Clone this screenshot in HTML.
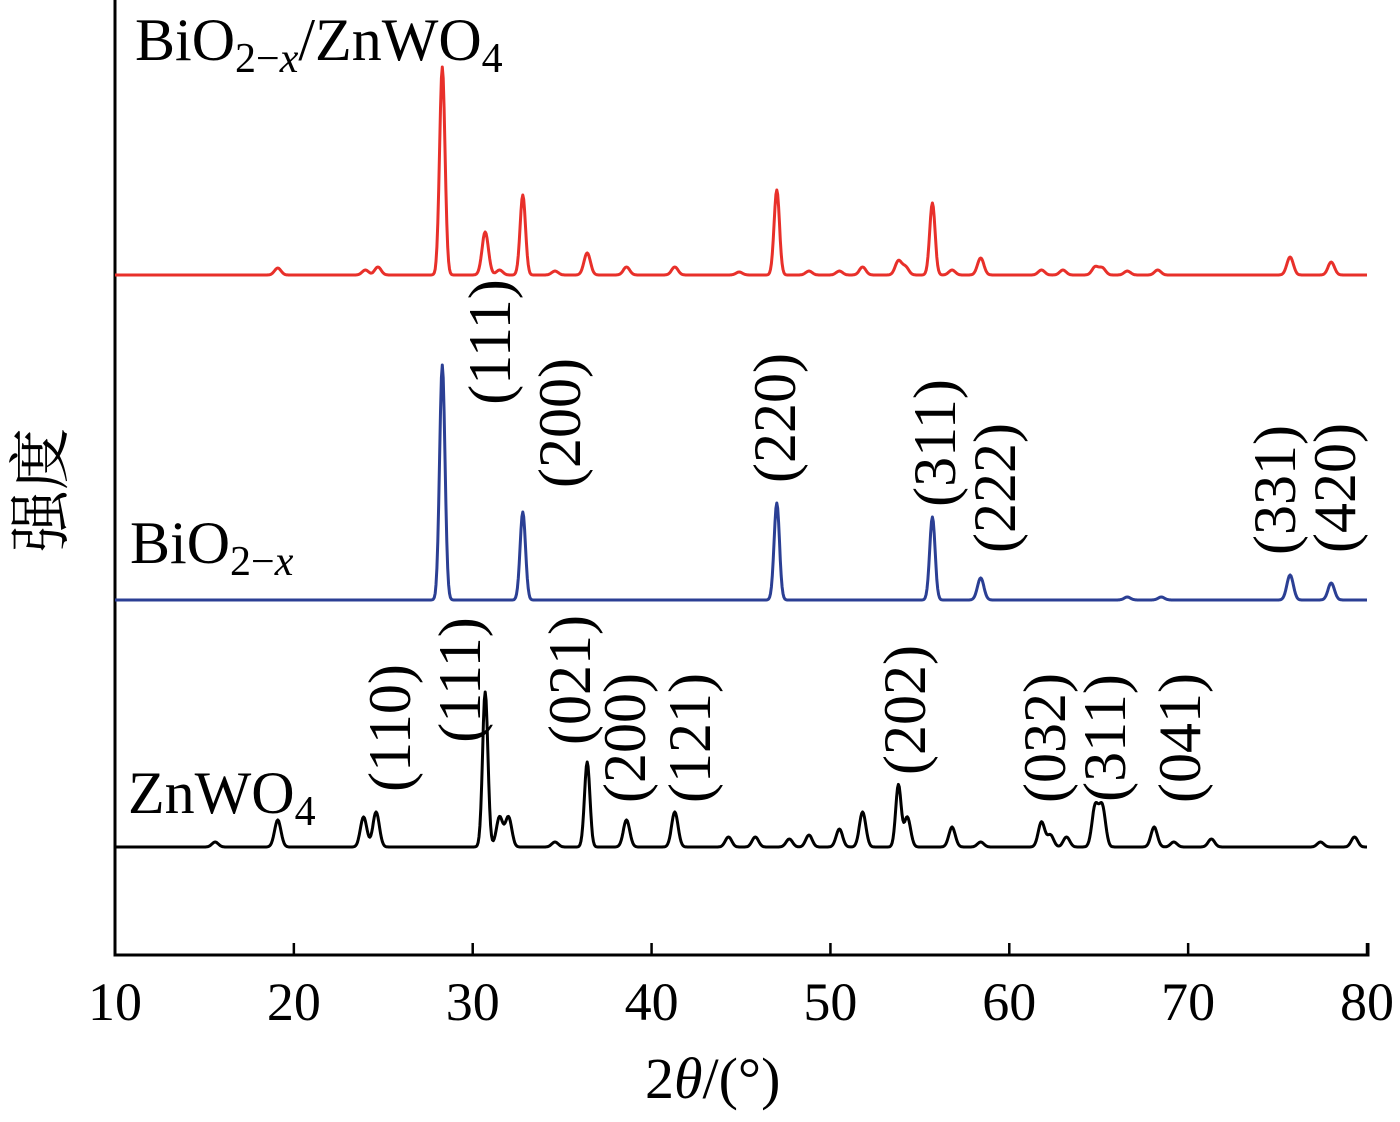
<!DOCTYPE html>
<html><head><meta charset="utf-8"><style>
html,body{margin:0;padding:0;background:#fff;}
svg{display:block;font-family:"Liberation Serif","Noto Serif CJK SC",serif;}
</style></head><body>
<svg id="chart" width="1400" height="1122" viewBox="0 0 1400 1122" xmlns="http://www.w3.org/2000/svg">
<g id="axes"></g>
<g id="series"></g>
<g id="labels"></g>
<text x="0" y="0" font-size="62" transform="translate(62,552) rotate(-90)" font-family="'Noto Serif CJK SC','Noto Sans CJK SC',serif">强度</text>
<text x="645" y="1098" font-size="58">2<tspan font-style="italic">θ</tspan>/(°)</text>
<text x="135" y="60" font-size="60">BiO<tspan font-size="42" dy="12">2−<tspan font-style="italic">x</tspan></tspan><tspan dy="-12">/ZnWO</tspan><tspan font-size="42" dy="12">4</tspan></text>
<text x="130" y="563" font-size="60">BiO<tspan font-size="42" dy="12">2−<tspan font-style="italic">x</tspan></tspan></text>
<text x="128" y="813" font-size="60">ZnWO<tspan font-size="42" dy="12">4</tspan></text>
</svg>
<script>
const xTicks=[10,20,30,40,50,60,70,80];
const redPos=[19.1,24.0,24.7,28.3,30.7,31.5,32.8,34.6,36.4,38.6,41.3,44.9,47.0,48.8,50.5,51.8,53.8,54.2,55.7,56.8,58.4,61.8,63.0,64.8,65.2,66.6,68.3,75.7,78.0];
const redInt=[7,5,8,208,43,5,80,4,22,8,8,3,85,4,4,8,14,8,72,5,17,5,5,8,7,4,5,18,13];
const bluePos=[28.3,32.8,47.0,55.7,58.4,66.6,68.5,75.7,78.0];
const blueInt=[235,88,97,83,22,3,3,25,17];
const blackPos=[15.6,19.1,23.9,24.6,30.7,31.5,32.0,34.6,36.4,38.6,41.3,44.3,45.8,47.7,48.8,50.5,51.8,53.8,54.3,56.8,58.4,61.8,62.3,63.2,64.8,65.2,68.1,69.2,71.3,77.4,79.3];
const blackInt=[5,27,30,35,155,30,30,5,85,27,35,10,10,8,12,18,35,62,30,20,5,25,12,10,40,40,20,5,8,5,10];
const baselines=[275,600,847];
const blueHkl=["(111)","(200)","(220)","(311)","(222)","(331)","(420)"];
const blueHklX=[490,560,775,935,995,1275,1335];
const blueHklY=[342,423,418,443,488,490,488];
const blackHkl=["(110)","(111)","(021)","(200)","(121)","(202)","(032)","(311)","(041)"];
const blackHklX=[390,460,570,625,690,905,1045,1105,1180];
const blackHklY=[728,680,680,738,738,710,738,738,738];

const NS="http://www.w3.org/2000/svg";
const X0=115,X1=1367,AXY=955;
function xs(v){return X0+(v-10)*(X1-X0)/70;}
function ys(v,base){return base-v;}
function mk(t,a,p){const e=document.createElementNS(NS,t);for(const k in a)e.setAttribute(k,a[k]);p.appendChild(e);return e;}
const axes=document.getElementById('axes');
const ax=mk('path',{d:`M${X0},0 V${AXY} H${X1+1} V${AXY-12}`,fill:'none',stroke:'#000','stroke-width':3},axes);


xTicks.forEach(t=>{
  const l=mk('line',{x1:xs(t),x2:xs(t),y1:AXY,y2:AXY-12,stroke:'#000','stroke-width':2.5},axes);
  
  
  const tx=mk('text',{x:xs(t),y:1020,'font-size':54,'text-anchor':'middle'},axes);
  tx.textContent=t;
  
  
});
function curve(pos,inten,base,color,name){
  let d='';
  for(let v=10;v<=80.001;v+=0.05){
    let s=0;
    for(let i=0;i<pos.length;i++){const w=inten[i]>60?0.15:0.18;const z=(v-pos[i])/w;s+=inten[i]*Math.exp(-0.5*z*z);}
    d+=(d?'L':'M')+xs(v).toFixed(1)+','+ys(s,base).toFixed(1);
  }
  const p=mk('path',{d:d,fill:'none',stroke:color,'stroke-width':3,'stroke-linejoin':'round'},document.getElementById('series'));
  
  
}
curve(redPos,redInt,baselines[0],'#e8302a','series-bio2x-znwo4');
curve(bluePos,blueInt,baselines[1],'#2b3f94','series-bio2x');
curve(blackPos,blackInt,baselines[2],'#000','series-znwo4');
const lab=document.getElementById('labels');
function hkl(arr,xa,ya,name){
  arr.forEach((s,i)=>{
    const t=mk('text',{x:0,y:0,'font-size':60,'text-anchor':'middle',transform:`translate(${xa[i]+20},${ya[i]}) rotate(-90)`},lab);
    t.textContent=s;
    
    
  });
}
hkl(blueHkl,blueHklX,blueHklY,'bio2x-hkl-label');
hkl(blackHkl,blackHklX,blackHklY,'znwo4-hkl-label');
</script>
</body></html>
